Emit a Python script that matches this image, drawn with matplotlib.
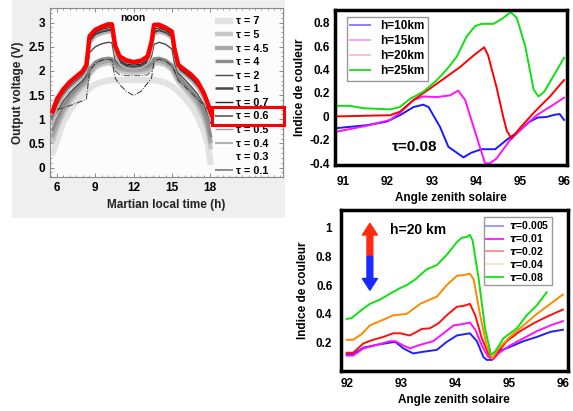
import numpy as np
import matplotlib
matplotlib.use('Agg')
import matplotlib.pyplot as plt
from matplotlib.patches import Rectangle
from matplotlib.lines import Line2D
from matplotlib.ticker import MultipleLocator, FixedLocator, FixedFormatter

plt.rcParams['font.family'] = ['Liberation Sans', 'DejaVu Sans']
plt.rcParams['font.weight'] = 'bold'

nan = np.nan

# ---- panel 1 : output voltage vs martian local time ----
hours = [5.6, 6.0, 6.5, 7.0, 7.5, 8.0, 8.3, 8.55, 9.0, 9.5, 10.0, 10.3, 10.55, 10.9, 11.4, 12.0,
         12.6, 13.1, 13.4, 13.6, 14.0, 14.5, 15.0, 15.2, 15.5, 16.0, 16.5, 17.0, 17.5, 17.8, 18.05, 18.2]

v_tau7 = [0.25, 0.56, 0.95, 1.18, 1.36, 1.51, 1.58, 1.64, 1.72, 1.77, 1.80, 1.81, 1.81, 1.81, 1.81, 1.81,
          1.81, 1.81, 1.81, 1.81, 1.79, 1.75, 1.68, 1.64, 1.57, 1.44, 1.28, 1.06, 0.75, 0.48, 0.05, nan]
v_tau5 = [0.5, 0.8, 1.12, 1.35, 1.52, 1.66, 1.74, 1.92, 2.06, 2.13, 2.16, 2.15, 2.05, 2.0, 1.97, 1.96,
          1.97, 2.0, 2.05, 2.15, 2.16, 2.12, 2.02, 1.92, 1.77, 1.62, 1.46, 1.28, 1.0, 0.75, 0.38, nan]
v_tau45 = [0.62, 0.9, 1.2, 1.42, 1.58, 1.71, 1.79, 1.98, 2.12, 2.18, 2.21, 2.2, 2.1, 2.05, 2.02, 2.01,
           2.02, 2.05, 2.1, 2.2, 2.21, 2.17, 2.07, 1.97, 1.83, 1.68, 1.53, 1.36, 1.1, 0.86, 0.5, nan]
v_tau4 = [0.75, 1.0, 1.28, 1.48, 1.63, 1.76, 1.85, 2.05, 2.18, 2.24, 2.26, 2.25, 2.15, 2.1, 2.06, 2.05,
          2.06, 2.1, 2.15, 2.25, 2.26, 2.22, 2.12, 2.02, 1.88, 1.74, 1.6, 1.43, 1.18, 0.95, 0.62, nan]
v_tau2 = [0.95, 1.15, 1.38, 1.55, 1.68, 1.8, 1.9, 2.38, 2.5, 2.56, 2.59, 2.58, 2.22, 2.12, 2.08, 2.07,
          2.08, 2.12, 2.3, 2.55, 2.59, 2.55, 2.45, 2.15, 1.95, 1.82, 1.68, 1.52, 1.3, 1.1, 0.9, nan]
v_tau1 = [1.02, 1.3, 1.52, 1.67, 1.79, 1.9, 2.02, 2.6, 2.76, 2.81, 2.84, 2.84, 2.4, 2.18, 2.1, 2.08,
          2.1, 2.18, 2.45, 2.8, 2.84, 2.79, 2.7, 2.35, 2.05, 1.95, 1.83, 1.68, 1.45, 1.25, 1.0, nan]
v_tau07 = [1.06, 1.35, 1.56, 1.71, 1.83, 1.94, 2.06, 2.65, 2.8, 2.86, 2.89, 2.89, 2.45, 2.22, 2.14, 2.12,
           2.14, 2.22, 2.5, 2.86, 2.89, 2.84, 2.75, 2.4, 2.08, 1.98, 1.87, 1.72, 1.49, 1.29, 1.04, nan]
v_tau06 = [1.12, 1.42, 1.62, 1.77, 1.88, 1.99, 2.12, 2.72, 2.85, 2.91, 2.96, 2.96, 2.52, 2.30, 2.22, 2.18,
           2.21, 2.30, 2.60, 2.95, 2.95, 2.89, 2.81, 2.45, 2.12, 2.02, 1.92, 1.78, 1.54, 1.33, 1.13, 1.05]
v_tau05 = [1.08, 1.38, 1.6, 1.75, 1.87, 1.98, 2.1, 2.74, 2.88, 2.95, 3.0, 3.0, 2.56, 2.32, 2.24, 2.21,
           2.24, 2.32, 2.62, 2.98, 2.99, 2.93, 2.85, 2.48, 2.15, 2.05, 1.95, 1.81, 1.57, 1.36, 1.1, nan]
v_tau04 = [0.9, 1.22, 1.47, 1.63, 1.75, 1.86, 1.97, 2.55, 2.7, 2.76, 2.79, 2.79, 2.35, 2.14, 2.06, 2.04,
           2.06, 2.14, 2.4, 2.74, 2.79, 2.75, 2.66, 2.3, 2.0, 1.9, 1.79, 1.64, 1.4, 1.2, 0.95, nan]
v_tau01 = [1.0, 1.32, 1.55, 1.7, 1.82, 1.93, 2.04, 2.68, 2.83, 2.89, 2.93, 2.93, 2.48, 2.26, 2.17, 2.15,
           2.17, 2.26, 2.55, 2.92, 2.93, 2.88, 2.79, 2.43, 2.1, 2.0, 1.9, 1.76, 1.52, 1.31, 1.06, nan]
v_dash_a = [nan, 1.2, 1.24, 1.28, 1.33, 1.38, 1.42, 2.0, 2.15, 2.22, 2.24, 2.22, 1.85, 1.72, 1.58, 1.49,
            1.58, 1.75, 1.85, 2.2, 2.24, 2.2, 2.1, 2.0, 1.8, 1.68, 1.55, 1.42, 1.29, 1.21, nan, nan]
v_dash_b = [nan, nan, nan, nan, nan, nan, nan, nan, nan, nan, nan, nan, 2.0, 1.92, 1.9, 1.9,
            1.9, 1.92, 2.0, nan, nan, nan, nan, nan, nan, nan, nan, nan, nan, nan, nan, nan]

# ---- panel 2 : colour index vs solar zenith angle, tau = 0.08 ----
sza_h10 = [90.85, 91.53, 91.98, 92.28, 92.59, 92.81, 92.93, 93.19, 93.38, 93.57, 93.72, 93.9, 94.13,
           94.44, 94.7, 95.0, 95.2, 95.4, 95.6, 95.8, 95.9, 96.0]
ci_h10 = [-0.1, -0.075, -0.045, 0.01, 0.08, 0.10, 0.08, -0.09, -0.26, -0.31, -0.35, -0.31, -0.28,
          -0.28, -0.2, -0.12, -0.05, -0.01, -0.005, 0.015, 0.02, -0.03]
sza_h15 = [90.85, 91.53, 92.06, 92.28, 92.59, 92.81, 93.12, 93.42, 93.6, 93.76, 93.95, 94.1, 94.21,
           94.32, 94.47, 94.78, 95.08, 95.38, 95.76, 96.0]
ci_h15 = [-0.13, -0.08, -0.03, 0.03, 0.14, 0.17, 0.165, 0.18, 0.22, 0.14, -0.09, -0.27, -0.40,
          -0.40, -0.36, -0.2, -0.09, 0.01, 0.1, 0.16]
sza_h20 = [90.85, 92.06, 92.28, 92.59, 92.97, 93.27, 93.64, 93.95, 94.19, 94.28, 94.47, 94.62, 94.7,
           94.81, 95.0, 95.31, 95.68, 96.0]
ci_h20 = [0.0, 0.01, 0.04, 0.14, 0.24, 0.32, 0.42, 0.52, 0.59, 0.52, 0.25, 0.0, -0.12,
          -0.19, -0.1, 0.03, 0.17, 0.31]
sza_h25 = [90.85, 91.15, 91.45, 92.06, 92.28, 92.51, 92.81, 93.12, 93.34, 93.57, 93.79, 93.98, 94.13,
           94.4, 94.62, 94.79, 94.93, 95.12, 95.31, 95.42, 95.55, 96.0]
ci_h25 = [0.09, 0.09, 0.07, 0.06, 0.08, 0.15, 0.21, 0.31, 0.40, 0.51, 0.68, 0.77, 0.79,
          0.79, 0.84, 0.89, 0.84, 0.60, 0.23, 0.17, 0.21, 0.50]

# ---- panel 3 : colour index vs solar zenith angle, h = 20 km ----
sza_t005 = [92.0, 92.12, 92.31, 92.56, 92.8, 92.9, 93.05, 93.23, 93.39, 93.67, 93.85, 94.04, 94.28,
            94.41, 94.53, 94.59, 94.69, 94.81, 95.02, 95.27, 95.52, 95.77, 96.0]
ci_t005 = [0.12, 0.12, 0.165, 0.185, 0.20, 0.205, 0.16, 0.125, 0.135, 0.15, 0.205, 0.25, 0.265,
           0.21, 0.10, 0.08, 0.08, 0.14, 0.17, 0.21, 0.24, 0.275, 0.29]
sza_t01 = [92.0, 92.12, 92.31, 92.56, 92.8, 92.9, 93.05, 93.17, 93.36, 93.6, 93.79, 93.98, 94.16,
           94.28, 94.38, 94.5, 94.62, 94.72, 94.81, 95.02, 95.27, 95.52, 95.77, 96.0]
ci_t01 = [0.11, 0.11, 0.16, 0.185, 0.21, 0.21, 0.18, 0.16, 0.185, 0.21, 0.265, 0.32, 0.33,
          0.34, 0.29, 0.18, 0.10, 0.086, 0.126, 0.18, 0.23, 0.28, 0.32, 0.35]
sza_t02 = [92.0, 92.12, 92.31, 92.49, 92.68, 92.86, 92.99, 93.17, 93.39, 93.54, 93.7, 93.85, 94.04,
           94.16, 94.28, 94.38, 94.5, 94.62, 94.69, 94.78, 94.96, 95.21, 95.46, 95.7, 96.0]
ci_t02 = [0.13, 0.13, 0.195, 0.22, 0.24, 0.265, 0.265, 0.25, 0.295, 0.30, 0.335, 0.39, 0.45,
          0.455, 0.47, 0.39, 0.23, 0.126, 0.086, 0.126, 0.21, 0.28, 0.335, 0.38, 0.43]
sza_t04 = [92.0, 92.12, 92.28, 92.43, 92.68, 92.86, 93.11, 93.36, 93.54, 93.67, 93.85, 94.04, 94.16,
           94.28, 94.35, 94.47, 94.59, 94.69, 94.81, 95.02, 95.27, 95.52, 95.77, 96.0]
ci_t04 = [0.22, 0.22, 0.26, 0.32, 0.36, 0.39, 0.40, 0.47, 0.50, 0.52, 0.60, 0.665, 0.67,
          0.68, 0.64, 0.39, 0.18, 0.09, 0.16, 0.24, 0.32, 0.40, 0.47, 0.535]
sza_t08 = [92.0, 92.09, 92.25, 92.43, 92.62, 92.8, 92.99, 93.11, 93.27, 93.48, 93.67, 93.85, 94.04,
           94.13, 94.22, 94.28, 94.33, 94.44, 94.56, 94.67, 94.75, 94.9, 95.15, 95.33, 95.52, 95.7]
ci_t08 = [0.365, 0.37, 0.42, 0.47, 0.50, 0.54, 0.58, 0.60, 0.64, 0.71, 0.74, 0.81, 0.90,
          0.93, 0.935, 0.95, 0.91, 0.65, 0.30, 0.115, 0.14, 0.23, 0.30, 0.39, 0.46, 0.55]

fig = plt.figure(figsize=(5.73, 4.11), dpi=100)
fig.add_artist(Rectangle((0.021, 0.4696), 0.4765, 0.5304, transform=fig.transFigure,
                         facecolor='#efefef', edgecolor='none', zorder=0))

# ---------------- panel 1 ----------------
ax1 = fig.add_axes([0.0873, 0.5701, 0.4066, 0.4104])
ax1.set_facecolor('#fcfcfc')
curves = [
    (v_tau7, '#e2e2e2', 4.5, '-', 'τ = 7'),
    (v_tau5, '#c6c6c6', 3.2, '-', 'τ = 5'),
    (v_tau45, '#a6a6a6', 3.0, '-', 'τ = 4.5'),
    (v_tau4, '#8a8a8a', 2.4, '-', 'τ = 4'),
    (v_tau2, '#4a4a4a', 1.0, '-', 'τ = 2'),
    (v_tau1, '#474747', 1.8, '-', 'τ = 1'),
    (v_tau07, '#2a2a2a', 1.0, '-', 'τ = 0.7'),
    (v_tau06, '#5c5c5c', 1.2, '-', 'τ = 0.6'),
    (v_tau05, '#a0a0a0', 1.0, '-', 'τ = 0.5'),
    (v_tau04, '#b2b2b2', 1.5, '-', 'τ = 0.4'),
    (None, None, None, None, 'τ = 0.3'),
    (v_tau01, '#7a7a7a', 1.2, '-', 'τ = 0.1'),
]
handles = []
for vals, col, lw, ls, lab in curves:
    if vals is None:
        handles.append(Line2D([], [], linestyle='none', label=lab))
        continue
    ln, = ax1.plot(hours, vals, color=col, lw=lw, ls=ls, label=lab, solid_capstyle='butt')
    handles.append(ln)
ax1.plot(hours, v_dash_a, color='#333333', lw=0.7, ls='-.')
ax1.plot(hours, v_dash_b, color='#555555', lw=0.7, ls='-.')
ax1.plot(hours, v_tau06, color='#ff0000', lw=3.2, solid_capstyle='butt', zorder=5)

ax1.set_xlim(5.45, 23.7)
ax1.set_ylim(-0.19, 3.3)
ax1.set_xticks([6, 9, 12, 15, 18])
ax1.set_yticks([0, 0.5, 1, 1.5, 2, 2.5, 3])
ax1.set_yticklabels(['0', '0.5', '1', '1.5', '2', '2.5', '3'])
ax1.xaxis.set_minor_locator(MultipleLocator(0.5))
ax1.yaxis.set_minor_locator(MultipleLocator(0.1))
ax1.tick_params(which='both', direction='in', top=True, right=True, color='#777777', labelsize=8.5)
ax1.tick_params(which='major', length=3, width=0.6)
ax1.tick_params(which='minor', length=1.5, width=0.5)
for s in ax1.spines.values():
    s.set_color('#8a8a8a')
    s.set_linewidth(0.8)
ax1.set_xlabel('Martian local time (h)', fontsize=8.5, fontweight='bold', labelpad=4, color='#222222')
ax1.set_ylabel('Output voltage (V)', fontsize=8.5, fontweight='bold', labelpad=3, color='#222222')
ax1.text(11.95, 3.09, 'noon', fontsize=7.5, fontweight='bold', ha='center', va='center')
leg1 = ax1.legend(handles=handles, loc='upper left', bbox_to_anchor=(0.705, 0.957), frameon=False,
                  fontsize=7.8, handlelength=1.6, handletextpad=0.3, labelspacing=0.33,
                  borderaxespad=0.0, borderpad=0.1)
for t in leg1.get_texts():
    t.set_fontweight('bold')
# red box around the tau = 0.6 legend entry
ax1.add_patch(Rectangle((0.696, 0.309), 0.308, 0.104, transform=ax1.transAxes,
                        fill=False, edgecolor='#ff0000', lw=2.2, clip_on=False, zorder=10))

# ---------------- panel 2 ----------------
ax2 = fig.add_axes([0.5846, 0.5985, 0.4044, 0.3771])
ax2.plot(sza_h10, ci_h10, color='#1a1aff', lw=1.4, label='h=10km')
ax2.plot(sza_h15, ci_h15, color='#ff10ff', lw=1.4, label='h=15km')
ax2.plot(sza_h20, ci_h20, color='#ff0000', lw=1.4, label='h=20km')
ax2.plot(sza_h25, ci_h25, color='#10e010', lw=1.4, label='h=25km')
ax2.set_xlim(90.81, 96.06)
ax2.set_ylim(-0.415, 0.908)
ax2.xaxis.set_major_locator(FixedLocator([91, 92, 93, 94, 95, 96]))
ax2.yaxis.set_major_locator(FixedLocator([-0.4, -0.2, 0, 0.2, 0.4, 0.6, 0.8]))
ax2.yaxis.set_major_formatter(FixedFormatter(['-0.4', '-0.2', '0', '0.2', '0.4', '0.6', '0.8']))
ax2.tick_params(axis='x', pad=8)
ax2.tick_params(axis='y', pad=4)
ax2.set_xlabel('Angle zenith solaire', fontsize=8.5, fontweight='bold', labelpad=3)
ax2.set_ylabel('Indice de couleur', fontsize=8.5, fontweight='bold', labelpad=2)
ax2.text(92.1, -0.258, 'τ=0.08', fontsize=11, fontweight='bold', ha='left', va='center')
leg2 = ax2.legend(loc='upper left', bbox_to_anchor=(0.025, 0.995), fontsize=8.5,
                  handlelength=1.7, handletextpad=0.8, labelspacing=0.25, borderpad=0.3,
                  fancybox=False, shadow=False, framealpha=1, edgecolor='#999999')
for t in leg2.get_texts():
    t.set_fontweight('bold')
for ln, a in zip(leg2.get_lines(), [0.55, 0.4, 0.25, 0.9]):
    ln.set_alpha(a)

# ---------------- panel 3 ----------------
ax3 = fig.add_axes([0.5946, 0.0981, 0.3962, 0.3910])
ax3.plot(sza_t005, ci_t005, color='#2020ff', lw=1.4, label=r'$\tau$=0.005')
ax3.plot(sza_t01, ci_t01, color='#ff10ff', lw=1.4, label=r'$\tau$=0.01')
ax3.plot(sza_t02, ci_t02, color='#ff1010', lw=1.4, label=r'$\tau$=0.02')
ax3.plot(sza_t04, ci_t04, color='#ff8800', lw=1.4, label=r'$\tau$=0.04')
ax3.plot(sza_t08, ci_t08, color='#10e010', lw=1.4, label=r'$\tau$=0.08')
ax3.set_xlim(91.89, 96.09)
ax3.set_ylim(0.005, 1.123)
ax3.xaxis.set_major_locator(FixedLocator([92, 93, 94, 95, 96]))
ax3.yaxis.set_major_locator(FixedLocator([0.2, 0.4, 0.6, 0.8, 1.0]))
ax3.yaxis.set_major_formatter(FixedFormatter(['0.2', '0.4', '0.6', '0.8', '1']))
ax3.tick_params(axis='x', pad=5)
ax3.tick_params(axis='y', pad=6)
ax3.set_xlabel('Angle zenith solaire', fontsize=8.5, fontweight='bold', labelpad=3)
ax3.set_ylabel('Indice de couleur', fontsize=8.5, fontweight='bold', labelpad=5)
ax3.text(92.8, 0.985, 'h=20 km', fontsize=10, fontweight='bold', ha='left', va='center')
ax3.annotate('', xy=(92.43, 1.03), xytext=(92.43, 0.80),
             arrowprops=dict(arrowstyle='simple,head_width=0.9,head_length=0.7,tail_width=0.35',
                             color='#ff2a10', mutation_scale=12, shrinkA=0, shrinkB=0))
ax3.annotate('', xy=(92.43, 0.565), xytext=(92.43, 0.80),
             arrowprops=dict(arrowstyle='simple,head_width=0.9,head_length=0.7,tail_width=0.35',
                             color='#1a2aff', mutation_scale=12, shrinkA=0, shrinkB=0))
leg3 = ax3.legend(loc='upper right', bbox_to_anchor=(0.955, 0.99), fontsize=7.5,
                  handlelength=1.6, handletextpad=0.6, labelspacing=0.08, borderpad=0.25,
                  fancybox=False, framealpha=1, edgecolor='#999999')
for t in leg3.get_texts():
    t.set_fontweight('bold')
for ln, a in zip(leg3.get_lines(), [0.45, 0.9, 0.45, 0.25, 0.9]):
    ln.set_alpha(a)

for ax in (ax2, ax3):
    for s in ax.spines.values():
        s.set_linewidth(2.5)
        s.set_color('black')
    ax.tick_params(length=0, labelsize=8.5)
    for lab in ax.get_xticklabels() + ax.get_yticklabels():
        lab.set_fontweight('bold')

fig.savefig('out.png', dpi=100)
